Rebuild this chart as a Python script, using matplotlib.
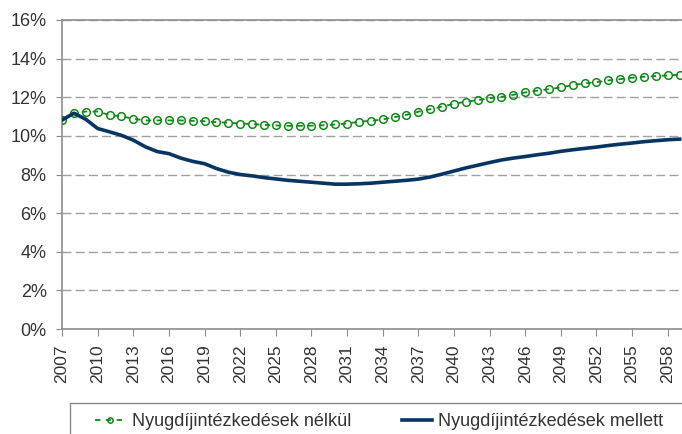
import matplotlib
matplotlib.use("Agg")
import matplotlib.pyplot as plt
from matplotlib.ticker import FuncFormatter
from matplotlib.patches import Rectangle

plt.rcParams['font.family'] = ['Liberation Sans', 'DejaVu Sans']

years = list(range(2007, 2060))
nelkul = [10.82, 11.17, 11.26, 11.26, 11.08, 11.01, 10.89, 10.80, 10.80, 10.80,
          10.80, 10.78, 10.76, 10.71, 10.68, 10.64, 10.61, 10.57, 10.54, 10.52,
          10.52, 10.53, 10.55, 10.59, 10.64, 10.73, 10.78, 10.85, 10.97, 11.09,
          11.25, 11.38, 11.52, 11.66, 11.77, 11.85, 11.95, 12.02, 12.13, 12.25,
          12.34, 12.42, 12.51, 12.63, 12.72, 12.78, 12.87, 12.94, 13.01, 13.06,
          13.10, 13.13, 13.17]
mellett = [10.82, 11.17, 10.86, 10.38, 10.21, 10.03, 9.78, 9.44, 9.19, 9.08,
           8.85, 8.68, 8.56, 8.31, 8.12, 8.00, 7.93, 7.84, 7.77, 7.70,
           7.65, 7.60, 7.55, 7.50, 7.50, 7.52, 7.55, 7.60, 7.65, 7.70,
           7.76, 7.87, 8.02, 8.18, 8.34, 8.48, 8.62, 8.75, 8.85, 8.93,
           9.02, 9.10, 9.20, 9.28, 9.35, 9.42, 9.50, 9.57, 9.63, 9.70,
           9.75, 9.80, 9.83]
xticks = list(range(2007, 2059, 3))
yticks = list(range(0, 17, 2))
labels = ['Nyugdíjintézkedések nélkül', 'Nyugdíjintézkedések mellett']

green = '#11881a'
navy = '#063463'
txt = '#333333'
axc = '#8c8c8c'

fig = plt.figure(figsize=(6.82, 4.34), dpi=100)
ax = fig.add_axes([62/682, (434-329)/434, 620/682, 309/434])

l1, = ax.plot(years, nelkul, color=green, linestyle=(0, (3, 3)), linewidth=1.3,
              marker='o', markersize=5.5, markerfacecolor='none',
              markeredgecolor=green, markeredgewidth=1.1, label=labels[0], zorder=3)
l2, = ax.plot(years, mellett, color=navy, linewidth=2.6, label=labels[1], zorder=4)

ax.set_xlim(2007, 2059.2)
ax.set_ylim(0, 16)
ax.set_xticks(xticks)
ax.set_xticklabels([str(x) for x in xticks], rotation=90, fontsize=12.5, color=txt)
ax.set_yticks(yticks)
ax.yaxis.set_major_formatter(FuncFormatter(lambda v, p: f'{int(v)}%'))
ax.tick_params(axis='y', labelsize=13, labelcolor=txt, length=4, color=axc, pad=7)
ax.tick_params(axis='x', length=5, color=axc, pad=6)
ax.grid(axis='y', color='#a0a0a0', linestyle=(0, (6.5, 3)), linewidth=1)
ax.set_axisbelow(True)
ax.spines['right'].set_visible(False)
for s in ['left', 'bottom', 'top']:
    ax.spines[s].set_color(axc)
    ax.spines[s].set_linewidth(1.2)

# legend frame
fig.patches.append(Rectangle((70/682, -0.05), 0.95, (434-403)/434 + 0.05,
                             transform=fig.transFigure, fill=False,
                             edgecolor='#888888', linewidth=1))
leg = fig.legend(handles=[l1, l2], labels=labels, loc='center left',
                 bbox_to_anchor=(95/682, (434-422)/434),
                 ncol=2, fontsize=13, frameon=False, numpoints=1,
                 handlelength=1.7, handletextpad=0.33, borderpad=0,
                 borderaxespad=0, columnspacing=2.8, markerscale=0.7,
                 labelcolor=txt)

fig.savefig('out.png', dpi=100)
